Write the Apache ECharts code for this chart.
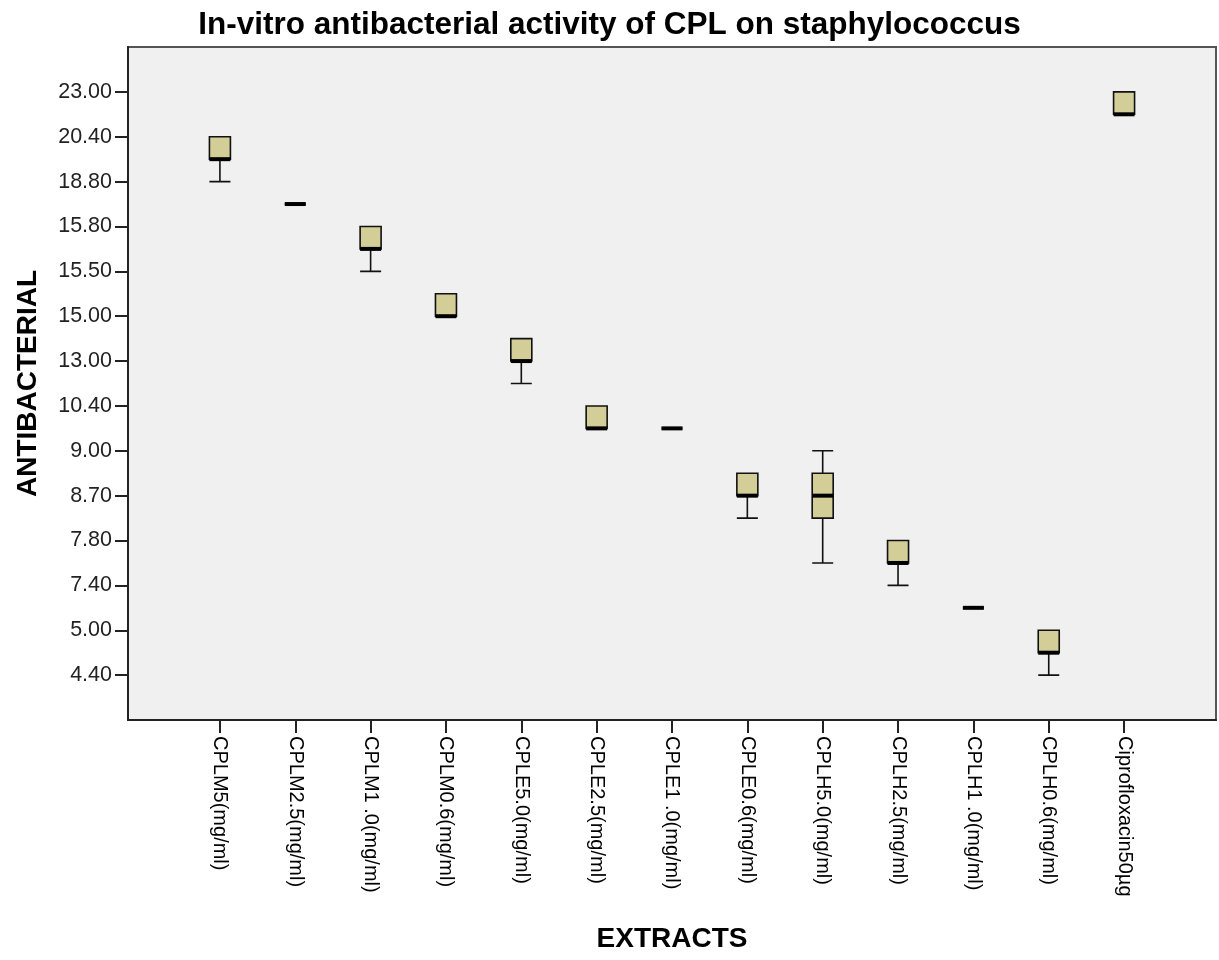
<!DOCTYPE html>
<html>
<head>
<meta charset="utf-8">
<script src="https://cdn.jsdelivr.net/npm/echarts@6/dist/echarts.min.js"></script>
<style>
html,body{margin:0;padding:0;background:#fff;}
#chart{width:1219px;height:960px;}
</style>
</head>
<body>
<div id="chart"></div>
<script>
// Categories (x axis)
var categories = ['CPLM5(mg/ml)','CPLM2.5(mg/ml)','CPLM1 .0(mg/ml)','CPLM0.6(mg/ml)','CPLE5.0(mg/ml)','CPLE2.5(mg/ml)','CPLE1 .0(mg/ml)','CPLE0.6(mg/ml)','CPLH5.0(mg/ml)','CPLH2.5(mg/ml)','CPLH1 .0(mg/ml)','CPLH0.6(mg/ml)','Ciprofloxacin50µg'];
// Y tick labels (ordinal positions 1..14, bottom to top)
var yTickLabels = ['4.40','5.00','7.40','7.80','8.70','9.00','10.40','13.00','15.00','15.50','15.80','18.80','20.40','23.00'];
// Box statistics on the ordinal y scale
var lowWhisker = [12, 11.5, 10, 9, 7.5, 6.5, 6.5, 4.5, 3.5, 3, 2.5, 1, 13.5];
var q1 = [12.5, 11.5, 10.5, 9, 8, 6.5, 6.5, 5, 4.5, 3.5, 2.5, 1.5, 13.5];
var median = [12.5, 11.5, 10.5, 9, 8, 6.5, 6.5, 5, 5, 3.5, 2.5, 1.5, 13.5];
var q3 = [13, 11.5, 11, 9.5, 8.5, 7, 6.5, 5.5, 5.5, 4, 2.5, 2, 14];
var highWhisker = [13, 11.5, 11, 9.5, 8.5, 7, 6.5, 5.5, 6, 4, 2.5, 2, 14];

var xIdx = categories.map(function(_, i){ return i; });
var yIdx = yTickLabels.map(function(_, i){ return i + 1; });
var boxData = categories.map(function(_, i){
  return [i, lowWhisker[i], q1[i], median[i], q3[i], highWhisker[i]];
});
var medData = categories.map(function(_, i){ return [i, median[i]]; });

var FONT = 'Liberation Sans, Arial, sans-serif';
var chart = echarts.init(document.getElementById('chart'), null, {renderer:'canvas'});
chart.setOption({
  animation: false,
  backgroundColor: '#ffffff',
  title: {
    text: 'In-vitro antibacterial activity of CPL on staphylococcus',
    left: 'center', top: 4,
    textStyle: {fontFamily: FONT, fontSize: 31.5, fontWeight: 'bold', color: '#000'}
  },
  grid: {
    left: 128, right: 3, top: 47, bottom: 240,
    show: true, backgroundColor: '#f0f0f0', borderColor: '#555', borderWidth: 2
  },
  xAxis: {
    type: 'value', min: -1.22, max: 13.22,
    name: 'EXTRACTS', nameLocation: 'middle', nameGap: 205,
    nameTextStyle: {fontFamily: FONT, fontSize: 28, fontWeight: 'bold', color: '#000'},
    axisLine: {show: true, onZero: false, lineStyle: {color: '#222', width: 2}},
    axisTick: {show: true, length: 13, customValues: xIdx, lineStyle: {color: '#222', width: 2}},
    axisLabel: {
      customValues: xIdx, rotate: -90, margin: 16,
      fontFamily: FONT, fontSize: 20, color: '#000',
      formatter: function(v){ return categories[Math.round(v)] || ''; }
    },
    splitLine: {show: false}
  },
  yAxis: {
    type: 'value', min: 0, max: 15,
    name: 'ANTIBACTERIAL', nameLocation: 'middle', nameGap: 86,
    nameTextStyle: {fontFamily: FONT, fontSize: 28, fontWeight: 'bold', color: '#000'},
    axisLine: {show: true, onZero: false, lineStyle: {color: '#222', width: 2}},
    axisTick: {show: true, length: 13, customValues: yIdx, lineStyle: {color: '#222', width: 2}},
    axisLabel: {
      customValues: yIdx, margin: 16,
      fontFamily: FONT, fontSize: 21.5, color: '#222',
      formatter: function(v){ return yTickLabels[Math.round(v) - 1] || ''; }
    },
    splitLine: {show: false}
  },
  series: [
    {
      type: 'boxplot',
      data: boxData,
      boxWidth: [21, 21],
      itemStyle: {color: '#d3ce97', borderColor: '#111', borderWidth: 1.6}
    },
    {
      type: 'scatter',
      data: medData,
      symbol: 'rect',
      symbolSize: [21, 4],
      itemStyle: {color: '#000', opacity: 1},
      z: 5
    }
  ]
});
</script>
</body>
</html>
